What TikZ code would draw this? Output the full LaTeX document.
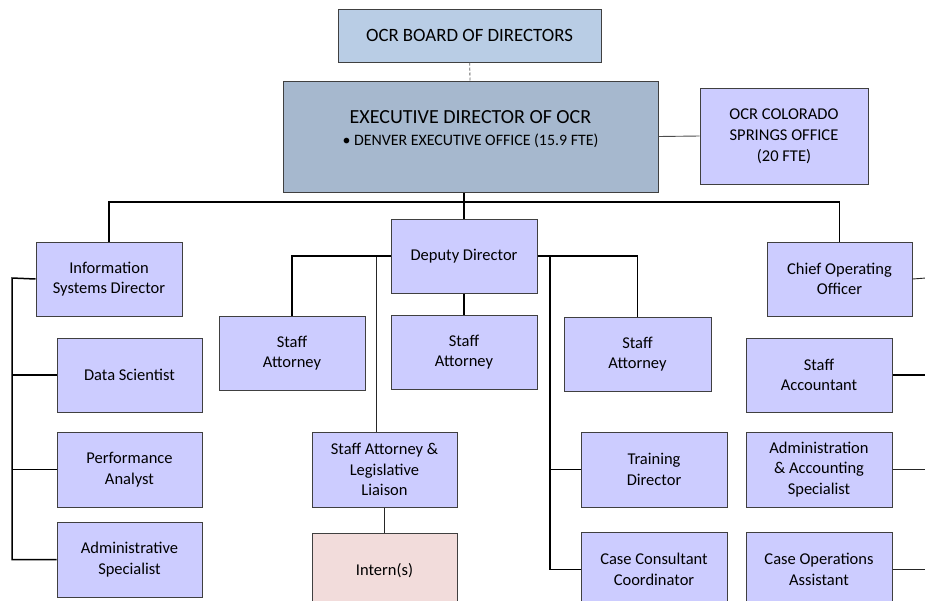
\documentclass[tikz,border=0pt]{standalone}
\usepackage{fontspec}
\setmainfont{Carlito}
\usetikzlibrary{positioning}

\definecolor{boardblue}{HTML}{B9CDE5}
\definecolor{execblue}{HTML}{A6B8CE}
\definecolor{lavender}{HTML}{CCCCFF}
\definecolor{internpink}{HTML}{F2DCDB}
\definecolor{edgegray}{HTML}{404040}

\begin{document}
\begin{tikzpicture}[x=1pt,y=-1pt,
  post/.style={draw=edgegray, line width=1pt, fill=lavender, align=center,
    minimum width=146pt, minimum height=75pt, inner sep=2pt,
    font=\fontsize{16.5}{20.5}\selectfont},
  wire/.style={line width=1.5pt},
  thinwire/.style={line width=0.9pt, draw=black!85}]

  \useasboundingbox (0,0) rectangle (925,600);
  \clip (0,0) rectangle (925,600);

% define the top of the chart
  \node[draw=edgegray, line width=1pt, fill=boardblue, minimum width=263pt,
    minimum height=53pt, font=\fontsize{18.8}{22}\selectfont]
    (board) at (469.5,35.5) {OCR BOARD OF DIRECTORS};
  \node[draw=edgegray, line width=1pt, fill=execblue, minimum width=375pt,
    minimum height=111pt] (exec) at (470.5,136.5) {};
  \node[align=center, inner sep=0pt, font=\fontsize{20}{22}\selectfont]
    (exectext) at (470.5,129)
    {EXECUTIVE DIRECTOR OF OCR\\
     {\fontsize{15.9}{18}\selectfont \textbullet\ DENVER EXECUTIVE OFFICE (15.9 FTE)}};
  \node[post, minimum width=168pt, minimum height=96pt,
    font=\fontsize{16.5}{21}\selectfont]
    (colo) at (784,136) {OCR COLORADO\\SPRINGS OFFICE\\(20 FTE)};

% define the three branches
  \node[post, minimum height=74pt] (isd) at (109,279) {Information\\Systems Director};
  \node[post, minimum height=74pt] (dep) at (464,256) {Deputy Director};
  \node[post, minimum width=145pt, minimum height=74pt] (coo) at (839.5,279) {Chief Operating\\Officer};

% define the information systems staff
  \node[post, minimum width=145pt, minimum height=74pt] (ds) at (129.5,375) {Data Scientist};
  \node[post, minimum width=145pt] (pa) at (129.5,469.5) {Performance\\Analyst};
  \node[post, minimum width=145pt] (asp) at (129.5,559.5) {Administrative\\Specialist};

% define the legal staff
  \node[post, minimum height=74pt] (sa1) at (292,353) {Staff\\Attorney};
  \node[post, minimum height=74pt] (sa2) at (464,352) {Staff\\Attorney};
  \node[post, minimum width=147pt, minimum height=74pt] (sa3) at (637.5,354) {Staff\\Attorney};
  \node[post, minimum width=145pt] (sall) at (384.5,469.5) {Staff Attorney \&\\Legislative\\Liaison};
  \node[post, minimum width=145pt, fill=internpink] (intern) at (384.5,570.5) {Intern(s)};
  \node[post] (td) at (654,469.5) {Training\\Director};
  \node[post] (ccc) at (654,569.5) {Case Consultant\\Coordinator};

% define the operations staff
  \node[post, minimum height=74pt] (sacc) at (819,375) {Staff\\Accountant};
  \node[post] (aas) at (819,469.5) {Administration\\\& Accounting\\Specialist};
  \node[post] (coa) at (819,569.5) {Case Operations\\Assistant};

% define the bus points
  \coordinate (topbus) at (464,202);
  \coordinate (isdbus) at (12,278);
  \coordinate (dlbus) at (376,257);
  \coordinate (drbus) at (550,257);
  \coordinate (redge) at (926,278);

% define the links
  \draw[densely dashed, draw=black!60, line width=0.8pt] (board) -- (exec);
  \draw[thinwire, draw=black!70] (exec.east) -- (colo.west);
  \draw[wire] (dep.north) -- (dep.north |- exec.south);
  \draw[wire] (isd.north) |- (topbus) -| (coo.north);

  \draw[wire] (isd.west) -- (isdbus) |- (asp.west);
  \draw[wire] (ds.west -| isdbus) -- (ds.west);
  \draw[wire] (pa.west -| isdbus) -- (pa.west);

  \draw[wire] (dep.west) -| (sa1.north);
  \draw[wire] (dep.south) -- (sa2.north);
  \draw[wire] (dep.east) -| (sa3.north);
  \draw[thinwire] (dlbus) -- (dlbus |- sall.north);
  \draw[thinwire] (sall.south) -- (intern.north);
  \draw[wire] (drbus) |- (ccc.west);
  \draw[wire] (td.west -| drbus) -- (td.west);

  \draw[thinwire] (coo.east) -- (redge);
  \draw[wire] (sacc.east) -- (sacc.east -| redge);
  \draw[thinwire] (aas.east) -- (aas.east -| redge);
  \draw[thinwire] (coa.east) -- (coa.east -| redge);

\end{tikzpicture}
\end{document}
